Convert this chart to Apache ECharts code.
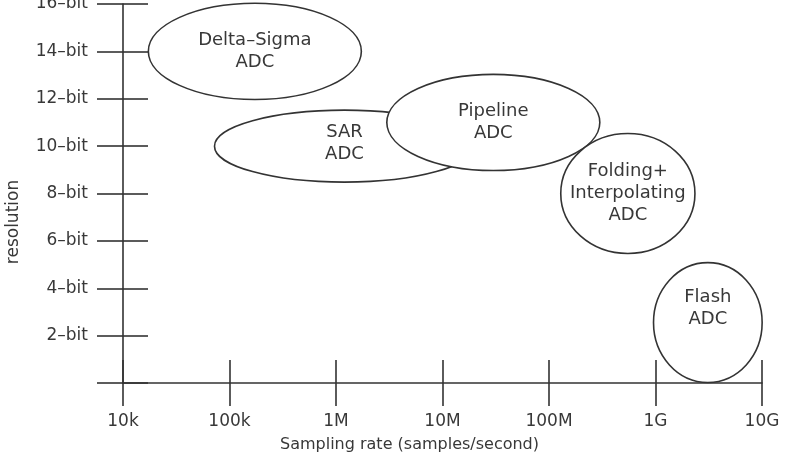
<!DOCTYPE html>
<html>
<head>
<meta charset="utf-8">
<title>ADC architectures</title>
<script src="https://cdn.jsdelivr.net/npm/echarts@6/dist/echarts.min.js"></script>
<style>
  html, body { margin: 0; padding: 0; background: #fff; }
  #chart { width: 789px; height: 456px; }
</style>
</head>
<body>
<div id="chart"></div>
<script>
// x axis is in decades (log10 of samples/second)
var rateTicks = ['10k', '100k', '1M', '10M', '100M', '1G', '10G'];
var bitTicks = [0, 2, 4, 6, 8, 10, 12, 14, 16];

// one entry per ADC family
var adcNames = ['Delta\u2013Sigma\nADC', 'SAR\nADC', 'Pipeline\nADC', 'Folding+\nInterpolating\nADC', 'Flash\nADC'];
var centerRate = [1.73e5, 1.2e6, 3.0e7, 5.5e8, 3.1e9];   // samples/second
var centerBits = [14, 10, 11, 8, 2.55];
var spanDecades = [1.0, 1.22, 1.0, 0.63, 0.51];        // half width
var spanBits = [2.03, 1.52, 2.03, 2.53, 2.53];         // half height
var labelBits = [14, 10.1, 11, 8, 3.15];

var ink = '#333';
var txt = '#383838';
var font = 'DejaVu Sans';

var data = [];
for (var i = 0; i < adcNames.length; i++) {
  data.push([Math.log10(centerRate[i]), centerBits[i], spanDecades[i], spanBits[i], labelBits[i], adcNames[i]]);
}

var chart = echarts.init(document.getElementById('chart'));

chart.setOption({
  animation: false,
  grid: { left: 123, right: 27, top: 4, bottom: 73, containLabel: false, outerBoundsMode: 'none' },
  xAxis: [{
    type: 'value', min: 4, max: 10, interval: 1,
    name: 'Sampling rate (samples/second)',
    nameLocation: 'middle', nameGap: 54,
    nameTextStyle: { fontFamily: font, fontSize: 16, color: txt, padding: [0, 66, 0, 0] },
    splitLine: { show: false },
    axisLine: { lineStyle: { color: ink, width: 1.6 } },
    axisTick: { length: 23, lineStyle: { color: ink, width: 1.6 } },
    axisLabel: {
      margin: 30, fontFamily: font, fontSize: 17, color: txt,
      formatter: function (v) { return rateTicks[Math.round(v - 4)]; }
    }
  }, {
    type: 'value', min: 4, max: 10, interval: 1, position: 'bottom',
    splitLine: { show: false },
    axisLine: { show: false },
    axisTick: { inside: true, length: 23, lineStyle: { color: ink, width: 1.6 } },
    axisLabel: { show: false }
  }],
  yAxis: [{
    type: 'value', min: 0, max: 16, interval: 2,
    name: 'resolution',
    nameLocation: 'middle', nameGap: 101, nameRotate: 90,
    nameTextStyle: { fontFamily: font, fontSize: 17, color: txt, padding: [0, 57, 0, 0] },
    splitLine: { show: false },
    axisLine: { lineStyle: { color: ink, width: 1.6 } },
    axisTick: { length: 26, lineStyle: { color: ink, width: 1.6 } },
    axisLabel: {
      margin: 35, fontFamily: font, fontSize: 17, color: txt,
      formatter: function (v) { return v === 0 ? '' : v + '\u2013bit'; }
    }
  }, {
    type: 'value', min: 0, max: 16, interval: 2, position: 'left',
    splitLine: { show: false },
    axisLine: { show: false },
    axisTick: { inside: true, length: 25, lineStyle: { color: ink, width: 1.6 } },
    axisLabel: { show: false }
  }],
  series: [{
    type: 'custom',
    clip: false,
    data: data,
    encode: { x: 0, y: 1 },
    renderItem: function (params, api) {
      var x = api.value(0), y = api.value(1);
      var c = api.coord([x, y]);
      var e = api.coord([x + api.value(2), y + api.value(3)]);
      var l = api.coord([x, api.value(4)]);
      return {
        type: 'group',
        children: [{
          type: 'ellipse',
          shape: { cx: c[0], cy: c[1], rx: e[0] - c[0], ry: c[1] - e[1] },
          style: { fill: '#fff', stroke: ink, lineWidth: 1.6 }
        }, {
          type: 'text',
          x: l[0], y: l[1],
          style: {
            text: adcNames[params.dataIndex],
            fill: txt, fontFamily: font, fontSize: 18, lineHeight: 22,
            align: 'center', verticalAlign: 'middle'
          }
        }]
      };
    }
  }]
});
</script>
</body>
</html>
